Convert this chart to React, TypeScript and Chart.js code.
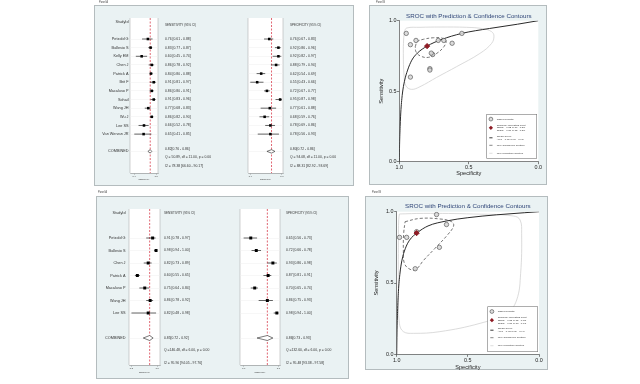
import React, { useEffect, useRef } from "react";
import { Chart, registerables } from "chart.js";
Chart.register(...registerables);

const FONT = '"Liberation Sans", Arial, sans-serif';

// ---------------- Top figure: 12 studies ----------------
const topStudies = ["Petzold G", "Ballesio S", "Kelly EM", "Chen J", "Patrick A", "Brit F", "Macaluso P", "Sohail", "Wang JH", "Wu J", "Lee SS", "Van Wervan JR"];
const topSens = [0.76, 0.83, 0.60, 0.86, 0.84, 0.91, 0.86, 0.91, 0.77, 0.86, 0.66, 0.65];
const topSensLo = [0.61, 0.77, 0.45, 0.78, 0.80, 0.81, 0.80, 0.83, 0.68, 0.82, 0.52, 0.41];
const topSensHi = [0.88, 0.87, 0.74, 0.92, 0.88, 0.97, 0.91, 0.96, 0.83, 0.90, 0.78, 0.85];
const topSpec = [0.76, 0.92, 0.92, 0.88, 0.62, 0.55, 0.72, 0.95, 0.77, 0.68, 0.78, 0.78];
const topSpecLo = [0.67, 0.86, 0.82, 0.79, 0.54, 0.43, 0.67, 0.87, 0.61, 0.59, 0.69, 0.56];
const topSpecHi = [0.83, 0.96, 0.97, 0.94, 0.69, 0.66, 0.77, 0.98, 0.88, 0.76, 0.86, 0.93];
const topSensPooled = [0.82, 0.76, 0.86];
const topSpecPooled = [0.80, 0.72, 0.86];
const topSensStats = ["Q = 50.89, df = 11.00, p = 0.00", "I2 = 78.38 [66.60 - 90.17]"];
const topSpecStats = ["Q = 94.08, df = 11.00, p = 0.00", "I2 = 88.31 [82.92 - 93.69]"];
const topAuc = "AUC = 0.87 [0.84 - 0.90]";
// SROC curve (specificity, sensitivity)
const topCurveSpec = [1.0, 0.998, 0.994, 0.988, 0.978, 0.963, 0.94, 0.91, 0.87, 0.80, 0.70, 0.55, 0.35, 0.15, 0.0];
const topCurveSens = [0.0, 0.12, 0.25, 0.37, 0.48, 0.57, 0.65, 0.72, 0.77, 0.82, 0.865, 0.91, 0.945, 0.975, 1.0];
const topConfSpec = [0.885, 0.871, 0.827, 0.755, 0.695, 0.664, 0.679, 0.731, 0.791, 0.847, 0.880, 0.885];
const topConfSens = [0.816, 0.851, 0.868, 0.879, 0.877, 0.858, 0.816, 0.768, 0.740, 0.749, 0.780, 0.816];
const topPredSpec = [0.964, 0.947, 0.851, 0.707, 0.516, 0.396, 0.336, 0.319, 0.336, 0.420, 0.588, 0.731, 0.851, 0.911, 0.952, 0.966, 0.971, 0.969, 0.964];
const topPredSens = [0.922, 0.948, 0.953, 0.955, 0.953, 0.943, 0.922, 0.891, 0.839, 0.768, 0.674, 0.598, 0.532, 0.513, 0.537, 0.615, 0.768, 0.863, 0.922];

// ---------------- Bottom figure: 7 studies ----------------
const botStudies = ["Petzold G", "Ballesio S", "Chen J", "Patrick A", "Macaluso P", "Wang JH", "Lee SS"];
const botSens = [0.91, 0.98, 0.82, 0.60, 0.75, 0.86, 0.82];
const botSensLo = [0.78, 0.94, 0.73, 0.55, 0.64, 0.78, 0.48];
const botSensHi = [0.97, 1.00, 0.89, 0.65, 0.84, 0.92, 0.98];
const botSpec = [0.65, 0.72, 0.93, 0.87, 0.70, 0.86, 0.98];
const botSpecLo = [0.56, 0.66, 0.86, 0.81, 0.65, 0.75, 0.94];
const botSpecHi = [0.73, 0.78, 0.98, 0.91, 0.74, 0.93, 1.00];
const botSensPooled = [0.85, 0.72, 0.92];
const botSpecPooled = [0.86, 0.73, 0.93];
const botSensStats = ["Q =146.48, df = 6.00, p = 0.00", "I2 = 95.90 [94.05 - 97.76]"];
const botSpecStats = ["Q =132.60, df = 6.00, p = 0.00", "I2 = 95.48 [93.38 - 97.58]"];
const botAuc = "AUC = 0.92 [0.89 - 0.94]";
const botCurveSpec = [1.0, 0.998, 0.994, 0.988, 0.978, 0.963, 0.94, 0.91, 0.855, 0.78, 0.65, 0.5, 0.3, 0.1, 0.0];
const botCurveSens = [0.0, 0.15, 0.30, 0.44, 0.56, 0.66, 0.74, 0.80, 0.853, 0.90, 0.935, 0.958, 0.978, 0.993, 1.0];
const botConfSpec = [0.941, 0.836, 0.696, 0.614, 0.600, 0.644, 0.731, 0.813, 0.864, 0.906, 0.946, 0.953, 0.951, 0.941];
const botConfSens = [0.930, 0.953, 0.949, 0.930, 0.900, 0.836, 0.743, 0.657, 0.596, 0.596, 0.638, 0.731, 0.848, 0.930];
const botPredSpec = [0.981, 0.813, 0.461, 0.180, 0.133, 0.122, 0.129, 0.157, 0.227, 0.415, 0.696, 0.883, 0.953, 0.981, 0.988, 0.988, 0.986, 0.981];
const botPredSens = [0.984, 0.988, 0.984, 0.970, 0.942, 0.848, 0.568, 0.381, 0.287, 0.217, 0.159, 0.147, 0.159, 0.217, 0.451, 0.801, 0.942, 0.984];

const BG = "#eaf2f3";
const fmt = (v: number, l: number, h: number) => `${v.toFixed(2)} [${l.toFixed(2)} - ${h.toFixed(2)}]`;
const pts = (xs: number[], ys: number[]) => xs.map((x, i) => ({ x, y: ys[i] }));

function forestConfig(p: any) {
  const rowOf = (i: number) => p.firstRow + i;
  const [pe, pl, ph] = p.pooled;
  const ciSets = p.est.map((_: number, i: number) => ({
    type: "line",
    data: [{ x: p.lo[i], y: rowOf(i) }, { x: p.hi[i], y: rowOf(i) }],
    borderColor: "#222",
    borderWidth: 0.7,
    pointRadius: 0,
    order: 2,
  }));
  const allRows = p.est.map((_: number, i: number) => rowOf(i)).concat([p.pooledRow]);
  const plugin = {
    id: "forestDeco",
    beforeDraw(chart: any) {
      const { ctx, chartArea: a } = chart;
      ctx.save();
      ctx.fillStyle = "#ffffff";
      ctx.fillRect(a.left, a.top, a.right - a.left, a.bottom - a.top);
      ctx.strokeStyle = "#a0a0a0";
      ctx.lineWidth = 0.5;
      ctx.beginPath();
      ctx.moveTo(a.left, a.top); ctx.lineTo(a.left, a.bottom);
      ctx.moveTo(a.right, a.top); ctx.lineTo(a.right, a.bottom);
      ctx.stroke();
      ctx.restore();
    },
    afterDraw(chart: any) {
      const { ctx, chartArea: a, scales } = chart;
      const y = scales.y;
      ctx.save();
      ctx.fillStyle = "#333";
      ctx.textBaseline = "middle";
      if (p.labels) {
        ctx.textAlign = "right";
        ctx.font = `${p.labelFs}px ${FONT}`;
        const lx = a.left - p.labelGap;
        ctx.fillText("StudyId", lx, y.getPixelForValue(p.headerRow));
        p.labels.forEach((s: string, i: number) => ctx.fillText(s, lx, y.getPixelForValue(rowOf(i))));
        ctx.fillText("COMBINED", lx, y.getPixelForValue(p.pooledRow));
      }
      ctx.textAlign = "left";
      const tx = a.right + p.textGap;
      ctx.font = `${p.headFs}px ${FONT}`;
      ctx.fillText(p.header, tx, y.getPixelForValue(p.headerTextRow));
      ctx.font = `${p.textFs}px ${FONT}`;
      p.est.forEach((v: number, i: number) => ctx.fillText(fmt(v, p.lo[i], p.hi[i]), tx, y.getPixelForValue(rowOf(i))));
      ctx.fillText(`${pe.toFixed(2)}[${pl.toFixed(2)} - ${ph.toFixed(2)}]`, tx, y.getPixelForValue(p.pooledTextRow));
      p.stats.forEach((s: string, k: number) => ctx.fillText(s, tx, y.getPixelForValue(p.statRows[k])));
      if (p.panelLabel) {
        ctx.font = `2.6px ${FONT}`;
        ctx.fillStyle = "#444";
        ctx.fillText(p.panelLabel.text, p.panelLabel.x, p.panelLabel.y);
      }
      ctx.restore();
    },
  };
  const tickVals = [Math.min(...p.lo), Math.max(...p.hi)];
  return {
    type: "scatter",
    data: {
      datasets: [
        ...ciSets,
        {
          type: "scatter",
          data: p.est.map((v: number, i: number) => ({ x: v, y: rowOf(i) })),
          pointStyle: "rect",
          pointRadius: p.markR,
          backgroundColor: "#000",
          borderColor: "#000",
          borderWidth: 0,
          order: 1,
        },
        {
          type: "line",
          data: [
            { x: pl, y: p.pooledRow }, { x: pe, y: p.pooledRow - p.dh }, { x: ph, y: p.pooledRow },
            { x: pe, y: p.pooledRow + p.dh }, { x: pl, y: p.pooledRow },
          ],
          borderColor: "#222",
          borderWidth: 0.6,
          backgroundColor: "#ffffff",
          fill: "shape",
          pointRadius: 0,
          tension: 0,
          order: 1,
        },
        {
          type: "line",
          data: [{ x: pe, y: p.yMin }, { x: pe, y: p.yMax }],
          borderColor: "#d8404f",
          borderDash: [2, 1.5],
          borderWidth: 0.8,
          pointRadius: 0,
          order: 3,
        },
      ],
    },
    options: {
      responsive: false,
      animation: false,
      events: [],
      layout: { padding: p.pad },
      plugins: { legend: { display: false }, tooltip: { enabled: false }, title: { display: false } },
      scales: {
        x: {
          type: "linear",
          min: p.xMin,
          max: p.xMax,
          afterBuildTicks: (ax: any) => { ax.ticks = tickVals.map((v) => ({ value: v })); },
          afterFit: (ax: any) => { ax.height = p.axisH; },
          ticks: { font: { size: 2.4, family: FONT }, color: "#333", padding: 0.3, maxRotation: 0, autoSkip: false, callback: (v: any) => Number(v).toFixed(1) },
          grid: { display: true, drawOnChartArea: false, tickLength: 1.5, color: "#555", lineWidth: 0.5 },
          border: { display: true, color: "#777", width: 0.5 },
          title: { display: true, text: p.axisTitle, font: { size: 1.8, family: FONT }, color: "#333", padding: 0 },
        },
        y: {
          type: "linear",
          min: p.yMin,
          max: p.yMax,
          reverse: true,
          afterBuildTicks: (ax: any) => { ax.ticks = allRows.map((v: number) => ({ value: v })); },
          afterFit: (ax: any) => { ax.width = 0; },
          ticks: { display: false },
          grid: { color: "#eeeeee", lineWidth: 0.5, drawTicks: false },
          border: { display: false },
        },
      },
    },
    plugins: [plugin],
  };
}

function srocConfig(p: any) {
  const plugin = {
    id: "srocDeco",
    beforeDraw(chart: any) {
      const { ctx, chartArea: a } = chart;
      ctx.save();
      ctx.fillStyle = "#ffffff";
      ctx.fillRect(a.left, a.top, a.right - a.left, a.bottom - a.top);
      ctx.restore();
    },
    afterDraw(chart: any) {
      const { ctx, chartArea: a } = chart;
      ctx.save();
      // title
      ctx.font = `6.2px ${FONT}`;
      ctx.fillStyle = "#2f4577";
      ctx.textAlign = "center";
      ctx.textBaseline = "middle";
      ctx.fillText("SROC with Prediction & Confidence Contours", (a.left + a.right) / 2, p.titleY);
      // panel label
      ctx.font = `2.6px ${FONT}`;
      ctx.fillStyle = "#444";
      ctx.textAlign = "left";
      ctx.fillText(p.panelLabel.text, p.panelLabel.x, p.panelLabel.y);
      // legend
      const w = 50, h = p.legH;
      const lx = a.right - p.legR - w;
      const ly = a.bottom - p.legB - h;
      ctx.fillStyle = "#ffffff";
      ctx.fillRect(lx, ly, w, h);
      ctx.strokeStyle = "#777";
      ctx.lineWidth = 0.6;
      ctx.strokeRect(lx, ly, w, h);
      const mx = lx + 4.2, tx = lx + 10;
      ctx.font = `2.5px ${FONT}`;
      ctx.fillStyle = "#333";
      const txt = (s: string, dy: number) => ctx.fillText(s, tx, ly + dy);
      // observed
      ctx.beginPath();
      ctx.arc(mx, ly + 4.8, 1.9, 0, Math.PI * 2);
      ctx.fillStyle = "#dddddd"; ctx.fill();
      ctx.strokeStyle = "#444"; ctx.lineWidth = 0.6; ctx.stroke();
      ctx.fillStyle = "#333";
      txt("Observed Data", 4.8);
      // summary
      ctx.save();
      ctx.translate(mx, ly + 13.5); ctx.rotate(Math.PI / 4);
      ctx.fillStyle = "#8e1b24"; ctx.fillRect(-1.5, -1.5, 3, 3);
      ctx.restore();
      ctx.fillStyle = "#333";
      txt("Summary Operating Point", 10.8);
      txt(`SENS = ${fmt(p.sensPooled[0], p.sensPooled[1], p.sensPooled[2])}`, 13.5);
      txt(`SPEC = ${fmt(p.specPooled[0], p.specPooled[1], p.specPooled[2])}`, 16.2);
      // SROC
      ctx.strokeStyle = "#222"; ctx.lineWidth = 0.9;
      ctx.beginPath(); ctx.moveTo(mx - 1.6, ly + 23.5); ctx.lineTo(mx + 1.6, ly + 23.5); ctx.stroke();
      txt("SROC Curve", 22);
      txt(p.auc, 25);
      // conf
      ctx.strokeStyle = "#555"; ctx.lineWidth = 0.7;
      ctx.beginPath(); ctx.moveTo(mx - 1.6, ly + 31); ctx.lineTo(mx + 1.6, ly + 31); ctx.stroke();
      txt("95% Confidence Contour", 31);
      ctx.strokeStyle = "#d0d0d0";
      ctx.beginPath(); ctx.moveTo(mx - 1.6, ly + 39); ctx.lineTo(mx + 1.6, ly + 39); ctx.stroke();
      txt("95% Prediction Contour", 39);
      ctx.restore();
    },
  };
  const axisCommon = (title: string, size: number, afterFit: any) => ({
    type: "linear",
    min: 0,
    max: 1,
    afterFit,
    ticks: { stepSize: 0.5, font: { size: 5.4, family: FONT }, color: "#222", padding: p.tickPad, callback: (v: any) => Number(v).toFixed(1) },
    grid: { display: true, drawOnChartArea: false, tickLength: 2.5, color: "#333", lineWidth: 0.6 },
    border: { display: true, color: "#333", width: 0.6 },
    title: { display: true, text: title, font: { size, family: FONT }, color: "#222", padding: 0 },
  });
  return {
    type: "scatter",
    data: {
      datasets: [
        {
          type: "scatter",
          label: "Observed Data",
          data: pts(p.spec, p.sens),
          pointStyle: "circle",
          pointRadius: 2.2,
          backgroundColor: "rgba(215,215,215,0.9)",
          borderColor: "#444",
          borderWidth: 0.6,
          order: 1,
        },
        {
          type: "scatter",
          label: "Summary Operating Point",
          data: [{ x: p.specPooled[0], y: p.sensPooled[0] }],
          pointStyle: "rectRot",
          pointRadius: 2.6,
          backgroundColor: "#8e1b24",
          borderColor: "#8e1b24",
          order: 0,
        },
        {
          type: "line",
          label: "SROC Curve",
          data: pts(p.curveSpec, p.curveSens),
          borderColor: "#2a2a2a",
          borderWidth: 1,
          pointRadius: 0,
          cubicInterpolationMode: "monotone",
          order: 2,
        },
        {
          type: "line",
          label: "95% Confidence Contour",
          data: pts(p.confSpec, p.confSens),
          borderColor: "#555",
          borderDash: [3, 2],
          borderWidth: 0.8,
          pointRadius: 0,
          tension: 0.4,
          order: 3,
        },
        {
          type: "line",
          label: "95% Prediction Contour",
          data: pts(p.predSpec, p.predSens),
          borderColor: "#d2d2d2",
          borderWidth: 0.8,
          pointRadius: 0,
          tension: 0.4,
          order: 4,
        },
      ],
    },
    options: {
      responsive: false,
      animation: false,
      events: [],
      layout: { padding: p.pad },
      plugins: { legend: { display: false }, tooltip: { enabled: false }, title: { display: false } },
      scales: {
        x: { ...axisCommon("Specificity", 5.6, (ax: any) => { ax.height = p.xAxisH; }), reverse: true },
        y: axisCommon("Sensitivity", 5.6, (ax: any) => { ax.width = p.yAxisW; }),
      },
    },
    plugins: [plugin],
  };
}

function ChartCanvas({ left, top, width, height, build }: any) {
  const ref = useRef<HTMLCanvasElement>(null);
  useEffect(() => {
    const chart = new Chart(ref.current as HTMLCanvasElement, build());
    return () => chart.destroy();
  }, []);
  return <canvas ref={ref} width={width} height={height} style={{ position: "absolute", left, top, width, height }} />;
}

const Box = ({ l, t, r, b }: any) => (
  <div style={{ position: "absolute", left: l, top: t, width: r - l, height: b - t, background: BG, border: "1px solid #b4bcbe", boxSizing: "border-box" }} />
);

export default function App() {
  useEffect(() => {
    document.body.style.margin = "0";
  }, []);
  const topRows = { yMin: -0.43, yMax: 17.5, firstRow: 2, pooledRow: 15, pooledTextRow: 14.7, statRows: [15.7, 16.7], headerRow: 0, headerTextRow: 0.4, dh: 0.2 };
  const botRows = { yMin: -0.32, yMax: 12.16, firstRow: 2, pooledRow: 10, pooledTextRow: 10, statRows: [11, 12], headerRow: 0, headerTextRow: 0, dh: 0.2 };
  const fonts = { labelFs: 3.8, headFs: 3.0, textFs: 3.4 };
  return (
    <div style={{ position: "absolute", left: 0, top: 0, width: 640, height: 384, background: "#fff", overflow: "hidden" }}>
      <Box l={94} t={5} r={354} b={186} />
      <Box l={369} t={5} r={547} b={185} />
      <Box l={96} t={196} r={349} b={379} />
      <Box l={365} t={196} r={548} b={370} />

      {/* top sensitivity forest */}
      <ChartCanvas left={95} top={0} width={145} height={184} build={() => forestConfig({
        ...topRows, ...fonts, labels: topStudies, est: topSens, lo: topSensLo, hi: topSensHi, pooled: topSensPooled,
        stats: topSensStats, header: "SENSITIVITY (95% CI)", axisTitle: "SENSITIVITY", xMin: 0.3, xMax: 1.02,
        pad: { left: 35, right: 82, top: 18, bottom: 3 }, axisH: 8, textGap: 7, labelGap: 1.5, markR: 1.8,
        panelLabel: { text: "Panel A", x: 4, y: 2 },
      })} />
      {/* top specificity forest */}
      <ChartCanvas left={240} top={0} width={113} height={184} build={() => forestConfig({
        ...topRows, ...fonts, est: topSpec, lo: topSpecLo, hi: topSpecHi, pooled: topSpecPooled,
        stats: topSpecStats, header: "SPECIFICITY (95% CI)", axisTitle: "SPECIFICITY", xMin: 0.39, xMax: 1.0,
        pad: { left: 8, right: 70, top: 18, bottom: 3 }, axisH: 8, textGap: 7, labelGap: 1.5, markR: 1.8,
      })} />
      {/* top SROC */}
      <ChartCanvas left={369} top={0} width={178} height={185} build={() => srocConfig({
        spec: topSpec, sens: topSens, specPooled: topSpecPooled, sensPooled: topSensPooled, auc: topAuc,
        curveSpec: topCurveSpec, curveSens: topCurveSens, confSpec: topConfSpec, confSens: topConfSens,
        predSpec: topPredSpec, predSens: topPredSens,
        pad: { left: 8.7, right: 8.7, top: 20.7, bottom: 8 }, xAxisH: 15.3, yAxisW: 21.6, tickPad: 0.3,
        titleY: 16, legR: 1.6, legB: 3.4, legH: 44, panelLabel: { text: "Panel B", x: 7, y: 2 },
      })} />

      {/* bottom sensitivity forest */}
      <ChartCanvas left={96} top={190} width={144} height={187} build={() => forestConfig({
        ...botRows, ...fonts, labels: botStudies, est: botSens, lo: botSensLo, hi: botSensHi, pooled: botSensPooled,
        stats: botSensStats, header: "SENSITIVITY (95% CI)", axisTitle: "SENSITIVITY", xMin: 0.43, xMax: 1.06,
        pad: { left: 33, right: 80, top: 19, bottom: 3 }, axisH: 9, textGap: 4, labelGap: 3.5, markR: 2.1,
        panelLabel: { text: "Panel A", x: 2, y: 2 },
      })} />
      {/* bottom specificity forest */}
      <ChartCanvas left={232} top={190} width={118} height={187} build={() => forestConfig({
        ...botRows, ...fonts, est: botSpec, lo: botSpecLo, hi: botSpecHi, pooled: botSpecPooled,
        stats: botSpecStats, header: "SPECIFICITY (95% CI)", axisTitle: "SPECIFICITY", xMin: 0.514, xMax: 1.02,
        pad: { left: 8, right: 70, top: 19, bottom: 3 }, axisH: 9, textGap: 6, labelGap: 1.5, markR: 2.1,
      })} />
      {/* bottom SROC */}
      <ChartCanvas left={365} top={190} width={183} height={182} build={() => srocConfig({
        spec: botSpec, sens: botSens, specPooled: botSpecPooled, sensPooled: botSensPooled, auc: botAuc,
        curveSpec: botCurveSpec, curveSens: botCurveSens, confSpec: botConfSpec, confSens: botConfSens,
        predSpec: botPredSpec, predSens: botPredSens,
        pad: { left: 8.4, right: 9, top: 21.7, bottom: 1 }, xAxisH: 16.7, yAxisW: 23.3, tickPad: 0.8,
        titleY: 16.7, legR: 1.3, legB: 2.6, legH: 45, panelLabel: { text: "Panel B", x: 7, y: 2 },
      })} />
    </div>
  );
}
